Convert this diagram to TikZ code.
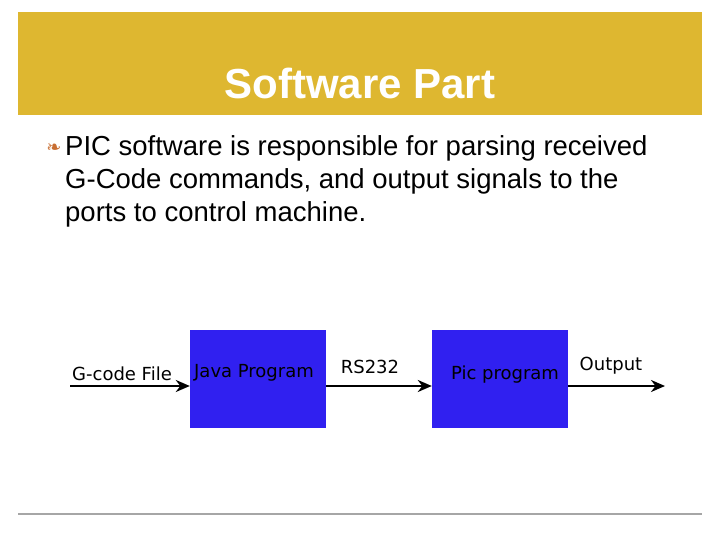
\documentclass[tikz,border=0pt]{standalone}
\usepackage{fontspec}
\setmainfont{Liberation Sans}
\newfontfamily\dejavu{DejaVu Sans}
\usetikzlibrary{arrows.meta}
\definecolor{gold}{RGB}{222,183,48}
\definecolor{boxblue}{RGB}{48,32,240}
\definecolor{bulletc}{RGB}{200,110,50}
\tikzset{
  blk/.style={fill=boxblue,draw=none,minimum width=136pt,minimum height=98pt,inner sep=0pt},
  lbl/.style={font=\dejavu\fontsize{18}{20}\selectfont,inner sep=0pt},
  arr/.style={-{Stealth[length=14pt,width=12pt]},line width=2.4pt},
  body/.style={font=\fontsize{27.5}{32}\selectfont,anchor=west,inner sep=0pt}
}
\begin{document}
\begin{tikzpicture}[x=1pt,y=-1pt]
\useasboundingbox (0,0) rectangle (720,540);
\fill[gold] (18,12) rectangle (702,115);
\node[font=\bfseries\fontsize{42}{48}\selectfont,text=white] (title) at (360,83) {Software Part};
\node[text=bulletc,font=\dejavu\fontsize{18}{20}\selectfont,inner sep=0pt] (bul) at (54,148) {❧};
\node[body] (l1) at (65,148) {PIC software is responsible for parsing received};
\node[body] (l2) at (65,181) {G-Code commands, and output signals to the};
\node[body] (l3) at (65,214) {ports to control machine.};
\node[blk] (java) at (258,379) {};
\node[blk] (pic) at (500,379) {};
\coordinate (start) at (70,386);
\coordinate (end) at (665,386);
\draw[arr] (start) -- (java.west |- start);
\draw[arr] (java.east |- start) -- (pic.west |- start);
\draw[arr] (pic.east |- start) -- (end);
\node[lbl] (g) at (122,374) {G-code File};
\node[lbl] (j) at (254,373) {Java Program};
\node[lbl] (rs) at (370,367) {RS232};
\node[lbl] (p) at (505,375) {Pic program};
\node[lbl] (o) at (611,366) {Output};
\draw[line width=2pt,gray!70] (18,514) -- (702,514);
\end{tikzpicture}
\end{document}
